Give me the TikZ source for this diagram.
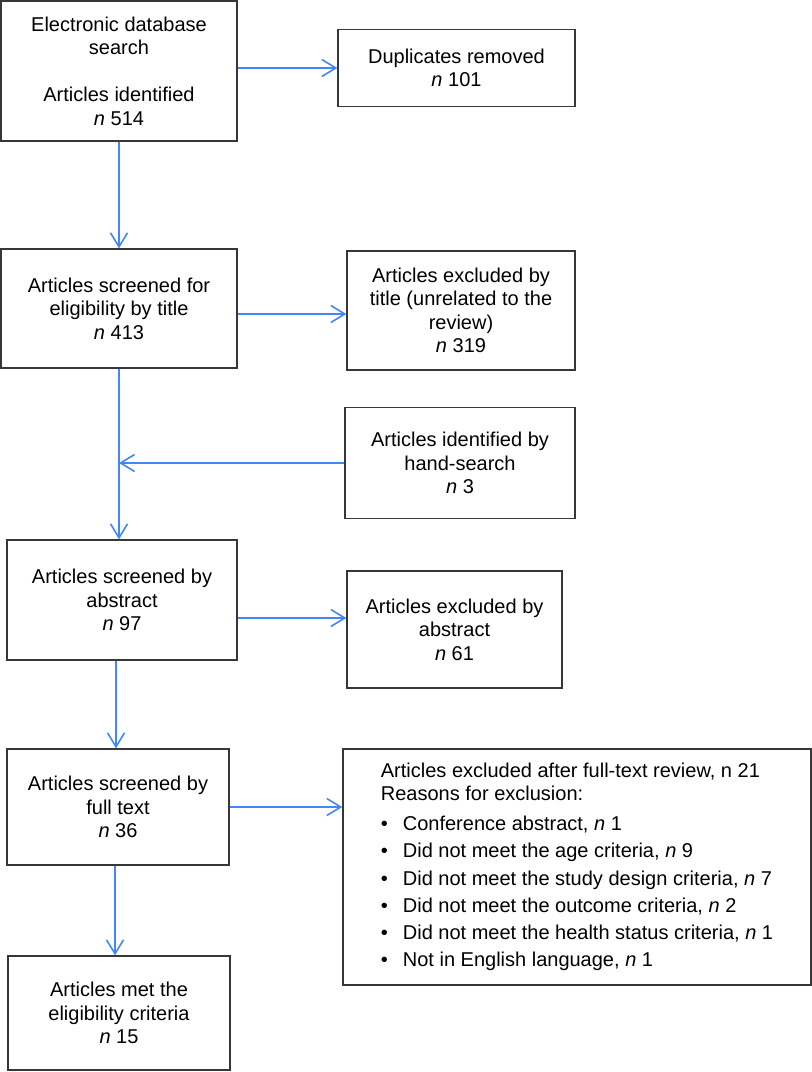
\documentclass[tikz,border=0pt]{standalone}
\usepackage{fontspec}
\setmainfont{Liberation Sans}
\usetikzlibrary{arrows.meta,calc}
\definecolor{arrblue}{RGB}{66,135,245}
\definecolor{boxgray}{RGB}{55,55,55}
\newcommand\mybul{\makebox[22pt][l]{\textbullet}}
\begin{document}
\begin{tikzpicture}[x=1pt,y=-1pt,
  box/.style={draw=boxgray, line width=1.3pt, align=center, inner sep=0pt,
    font=\fontsize{20}{23.5}\selectfont, text=black},
  arr/.style={draw=arrblue, line width=1.6pt,
    -{Straight Barb[length=14pt,width=17pt]}}]
\useasboundingbox (0,0) rectangle (812,1072);

\node[box, minimum width=236pt, minimum height=140pt] (b1) at (119,71)
  {Electronic database\\search\\[23.5pt]Articles identified\\\textit{n} 514};
\node[box, minimum width=237pt, minimum height=77pt] (dup) at (456.5,68)
  {Duplicates removed\\\textit{n} 101};
\node[box, minimum width=236pt, minimum height=119pt] (b2) at (119,308.5)
  {Articles screened for\\eligibility by title\\\textit{n} 413};
\node[box, minimum width=228pt, minimum height=119pt] (extitle) at (461,310.5)
  {Articles excluded by\\title (unrelated to the\\review)\\\textit{n} 319};
\node[box, minimum width=230pt, minimum height=111pt] (hand) at (460,463)
  {Articles identified by\\hand-search\\\textit{n} 3};
\node[box, minimum width=230pt, minimum height=120pt] (b3) at (122,600)
  {Articles screened by\\abstract\\\textit{n} 97};
\node[box, minimum width=215pt, minimum height=117pt] (exabs) at (454.5,629.5)
  {Articles excluded by\\abstract\\\textit{n} 61};
\node[box, minimum width=222pt, minimum height=116pt] (b4) at (118,807)
  {Articles screened by\\full text\\\textit{n} 36};
\node[box, minimum width=468pt, minimum height=236pt, align=left] (exft) at (577,867)
  {Articles excluded after full-text review, n 21\\
   Reasons for exclusion:\\[6pt]
   \mybul Conference abstract, \textit{n} 1\\[3.8pt]
   \mybul Did not meet the age criteria, \textit{n} 9\\[3.8pt]
   \mybul Did not meet the study design criteria, \textit{n} 7\\[3.8pt]
   \mybul Did not meet the outcome criteria, \textit{n} 2\\[3.8pt]
   \mybul Did not meet the health status criteria, \textit{n} 1\\[3.8pt]
   \mybul Not in English language, \textit{n} 1};
\node[box, minimum width=222pt, minimum height=114pt] (b5) at (119,1013)
  {Articles met the\\eligibility criteria\\\textit{n} 15};

\draw[arr] (b1.east |- dup.west) -- (dup.west);
\draw[arr] (b1.south) -- (b2.north);
\draw[arr] ([yshift=-5.5pt]b2.east) -- ([yshift=-5.5pt]b2.east -| extitle.west);
\draw[arr] (hand.west) -- (hand.west -| b2.south);
\draw[arr] (b2.south) -- (b2.south |- b3.north);
\draw[arr] ([yshift=-18pt]b3.east) -- ([yshift=-18pt]b3.east -| exabs.west);
\draw[arr] ([xshift=-2pt]b4.north |- b3.south) -- ([xshift=-2pt]b4.north);
\draw[arr] (b4.east) -- (b4.east -| exft.west);
\draw[arr] ([xshift=-4pt]b5.north |- b4.south) -- ([xshift=-4pt]b5.north);
\end{tikzpicture}
\end{document}
